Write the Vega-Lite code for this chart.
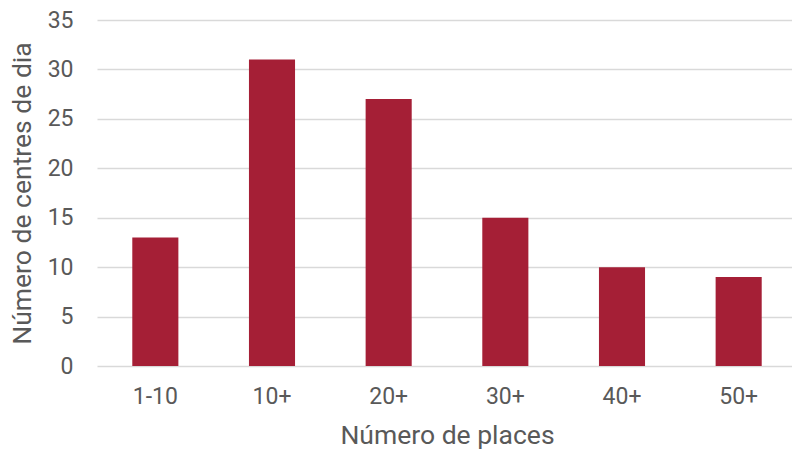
{
  "$schema": "https://vega.github.io/schema/vega-lite/v6.json",
  "width": 700,
  "height": 346,
  "autosize": {"type": "none"},
  "padding": {"left": 97, "top": 20, "right": 0, "bottom": 83},
  "background": "white",
  "config": {"view": {"stroke": null}, "font": "Roboto"},
  "data": {"values": [
    {"places": "1-10", "centres": 13},
    {"places": "10+", "centres": 31},
    {"places": "20+", "centres": 27},
    {"places": "30+", "centres": 15},
    {"places": "40+", "centres": 10},
    {"places": "50+", "centres": 9}
  ]},
  "mark": {"type": "bar", "color": "#A51F36"},
  "encoding": {
    "x": {
      "field": "places", "type": "nominal", "sort": null,
      "scale": {"paddingInner": 0.605, "paddingOuter": 0.3025},
      "axis": {
        "title": "Número de places", "titleFont": "Roboto", "titleFontSize": 26.5, "titleFontWeight": "normal",
        "titleColor": "#595959", "titlePadding": 14,
        "labelAngle": 0, "labelFontSize": 23, "labelColor": "#595959", "labelPadding": 19,
        "ticks": false, "domain": false
      }
    },
    "y": {
      "field": "centres", "type": "quantitative",
      "scale": {"domain": [0, 35]},
      "axis": {
        "title": "Número de centres de dia", "titleFont": "Roboto", "titleFontSize": 26.5, "titleFontWeight": "normal",
        "titleColor": "#595959", "titlePadding": 11,
        "values": [0, 5, 10, 15, 20, 25, 30, 35],
        "labelFontSize": 23, "labelColor": "#595959", "labelPadding": 24,
        "ticks": false, "domain": false,
        "grid": true, "gridColor": "#D9D9D9", "gridWidth": 1.5
      }
    }
  }
}
